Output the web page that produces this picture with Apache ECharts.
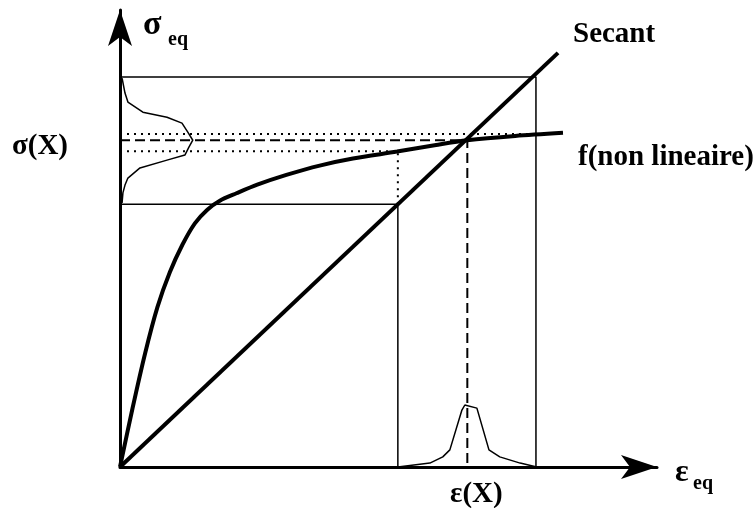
<!DOCTYPE html>
<html>
<head>
<meta charset="utf-8">
<script src="https://cdn.jsdelivr.net/npm/echarts@6/dist/echarts.min.js"></script>
<style>html,body{margin:0;padding:0;background:#fff}#c{width:756px;height:508px}</style>
</head>
<body>
<div id="c"></div>
<script>
// ---- data (strain units on x, stress units on y) ----
const epsX = 83.5;          // ε(X)
const sigX = 83.8;          // σ(X)
const epsLow = 66.8;        // lower strain bound
const epsHigh = 100;        // upper strain bound
const sigLow = 67.4;        // lower stress bound
const sigHigh = 100;        // upper stress bound
const sigDotHigh = 85.4;    // dotted upper stress
const sigDotLow = 81.0;     // dotted lower stress

const secant = [[0, 0], [105.3, 106.2]];
const fNonLin = [[0,0],[3,15],[6,29],[9,41],[12,50],[15,57],[18,62.5],[21,66],[24,68.3],[28,70.2],[33,72.4],[40,74.9],[48,77.3],[56,79.1],[66.6,80.9],[76,82.6],[83.5,83.8],[95,84.9],[106.5,85.7]];

// stress distribution drawn along the σ axis: [density, σ]
const sigDist = [[0.5,99.7],[1.2,95.9],[1.9,93.6],[5.5,91.0],[11.3,89.7],[14.9,88.2],[16.3,85.9],[17.5,83.8],[16.6,82.1],[15.6,80.0],[11.3,78.7],[4.8,76.7],[1.9,74.1],[1.2,72.3],[0.7,70.3],[0.5,67.7]];
// strain distribution drawn along the ε axis: [ε, density]
const epsDist = [[66.8,0],[74.5,1.0],[77.6,2.6],[79.3,4.4],[82.2,14.6],[82.9,15.9],[85.8,15.1],[88.7,4.4],[91.3,2.6],[96.2,1.0],[100.2,0]];

const xMax = 129.1, yMax = 117.2;

// ---- build ----
const chart = echarts.init(document.getElementById('c'), null, {renderer: 'canvas'});
const FONT = '"Liberation Serif", "DejaVu Serif", serif';

function line(data, width, type, smooth) {
  return {
    type: 'line', data: data, showSymbol: false, symbol: 'none', silent: true,
    smooth: smooth || false, clip: false,
    lineStyle: {color: '#000', width: width, type: type || 'solid'}
  };
}

const series = [
  line([[0, sigHigh], [epsHigh, sigHigh], [epsHigh, 0]], 1.5),
  line([[0, sigLow], [epsLow, sigLow], [epsLow, 0]], 1.5),
  line([[0, sigDotHigh], [epsHigh, sigDotHigh]], 2, [2, 5]),
  line([[0, sigDotLow], [epsLow, sigDotLow], [epsLow, sigLow]], 2, [2, 5]),
  line([[0, sigX], [epsX, sigX], [epsX, 0]], 2, [10, 5]),
  line(sigDist, 1.5),
  line(epsDist, 1.5),
  line(secant, 4),
  line(fNonLin, 4, 'solid', 0.3)
];

function txt(x, y, s, size) {
  return {type: 'text', left: x, top: y, silent: true,
    style: {text: s, font: 'bold ' + size + 'px ' + FONT, fill: '#000', textVerticalAlign: 'top'}};
}

const option = {
  animation: false,
  backgroundColor: '#fff',
  grid: {left: 120, right: 99, top: 10, bottom: 41},
  xAxis: {
    type: 'value', min: 0, max: xMax,
    axisLine: {show: true, onZero: false, symbol: ['none', 'arrow'], symbolSize: [18, 36], lineStyle: {color: '#000', width: 3}},
    axisTick: {show: false}, axisLabel: {show: false}, splitLine: {show: false}
  },
  yAxis: {
    type: 'value', min: 0, max: yMax,
    axisLine: {show: true, onZero: false, symbol: ['none', 'arrow'], symbolSize: [18, 36], lineStyle: {color: '#000', width: 3}},
    axisTick: {show: false}, axisLabel: {show: false}, splitLine: {show: false}
  },
  series: series,
  graphic: [
    txt(143, 8, 'σ', 34),
    txt(168, 30, 'eq', 20),
    txt(12, 132, 'σ(X)', 29),
    txt(573, 20, 'Secant', 29),
    txt(578, 143, 'f(non lineaire)', 29),
    txt(450, 480, 'ε(X)', 29),
    txt(675, 457, 'ε', 32),
    txt(693, 474, 'eq', 20)
  ]
};
chart.setOption(option);
</script>
</body>
</html>
